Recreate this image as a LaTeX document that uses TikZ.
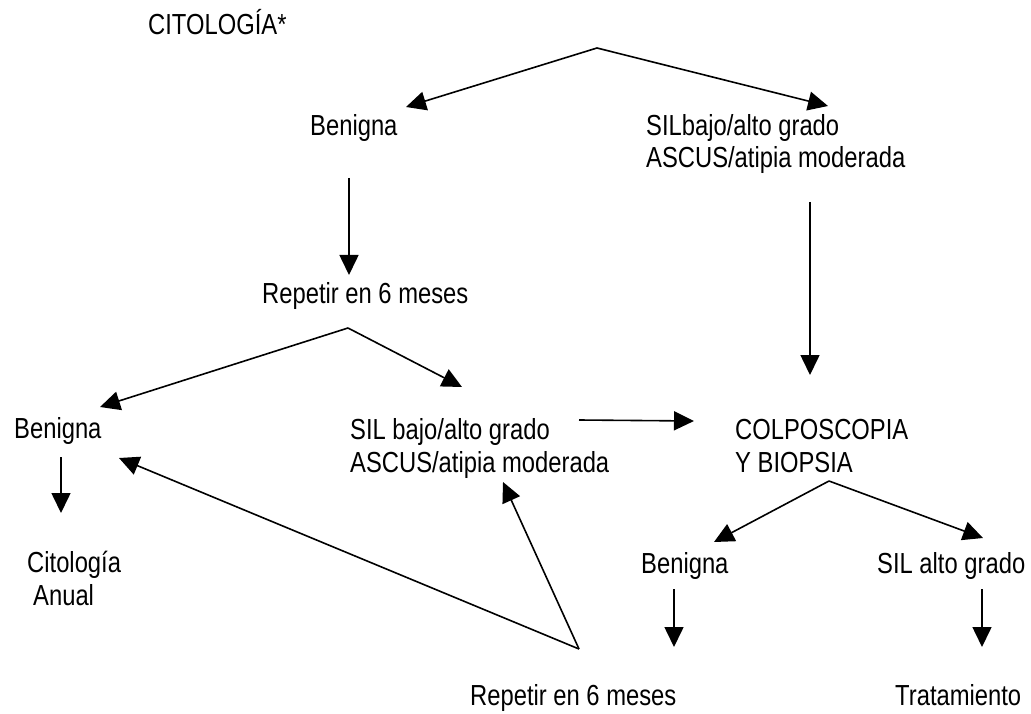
\documentclass[tikz,border=0pt]{standalone}
\usepackage{fontspec}
\setmainfont{Liberation Sans}[FakeStretch=0.82]
\usetikzlibrary{arrows.meta}

\begin{document}
\begin{tikzpicture}[x=1pt, y=-1pt,
  lbl/.style={anchor=base west, inner sep=0pt, align=left,
    font=\fontsize{29}{32.5}\selectfont},
  arrow/.style={line width=1.6pt, -{Triangle[length=20pt,width=19pt]}}
]
  \useasboundingbox (0,0) rectangle (1031,714);

  % textos (los de dos lineas se apoyan en la ultima linea)
  \node[lbl] (cito)  at (148,35)  {CITOLOGÍA*};
  \node[lbl] (ben1)  at (310,136) {Benigna};
  \node[lbl] (sil1)  at (646,168) {SILbajo/alto grado\\ASCUS/atipia moderada};
  \node[lbl] (rep1)  at (262,303) {Repetir en 6 meses};
  \node[lbl] (ben2)  at (14,438)  {Benigna};
  \node[lbl] (sil2)  at (350,472) {SIL bajo/alto grado\\ASCUS/atipia moderada};
  \node[lbl] (colpo) at (735,472) {COLPOSCOPIA\\Y BIOPSIA};
  \node[lbl] (anual) at (27,605)  {Citología\\\hspace*{6pt}Anual};
  \node[lbl] (ben3)  at (641,573) {Benigna};
  \node[lbl] (sil3)  at (877,573) {SIL alto grado};
  \node[lbl] (rep2)  at (470,705) {Repetir en 6 meses};
  \node[lbl] (trat)  at (895,705) {Tratamiento};

  % puntos de salida y llegada
  \coordinate (cito-s)  at (597,48);
  \coordinate (ben1-n)  at (406,107);
  \coordinate (sil1-n)  at (828,106);
  \coordinate (ben1-s)  at (349,178);
  \coordinate (rep1-n)  at (349,275);
  \coordinate (sil1-s)  at (810,202);
  \coordinate (colpo-n) at (810,375);
  \coordinate (rep1-s)  at (348,328);
  \coordinate (ben2-n)  at (100,407);
  \coordinate (sil2-n)  at (462,387);
  \coordinate (sil2-e)  at (579,420);
  \coordinate (colpo-w) at (694,421);
  \coordinate (ben2-s)  at (61,457);
  \coordinate (anual-n) at (61,513);
  \coordinate (rep2-n)  at (579,649);
  \coordinate (ben2-e)  at (119,458);
  \coordinate (sil2-s)  at (503,482);
  \coordinate (colpo-s) at (829,481);
  \coordinate (ben3-n)  at (714,542);
  \coordinate (sil3-n)  at (983,538);
  \coordinate (ben3-s)  at (674,589);
  \coordinate (rep2-e)  at (674,647);
  \coordinate (sil3-s)  at (982,589);
  \coordinate (trat-n)  at (982,647);

  \draw[arrow] (cito-s) -- (ben1-n);
  \draw[arrow] (cito-s) -- (sil1-n);
  \draw[arrow] (ben1-s) -- (rep1-n);
  \draw[arrow] (sil1-s) -- (colpo-n);
  \draw[arrow] (rep1-s) -- (ben2-n);
  \draw[arrow] (rep1-s) -- (sil2-n);
  \draw[arrow] (sil2-e) -- (colpo-w);
  \draw[arrow] (ben2-s) -- (anual-n);
  \draw[arrow] (rep2-n) -- (ben2-e);
  \draw[arrow] (rep2-n) -- (sil2-s);
  \draw[arrow] (colpo-s) -- (ben3-n);
  \draw[arrow] (colpo-s) -- (sil3-n);
  \draw[arrow] (ben3-s) -- (rep2-e);
  \draw[arrow] (sil3-s) -- (trat-n);
\end{tikzpicture}
\end{document}
